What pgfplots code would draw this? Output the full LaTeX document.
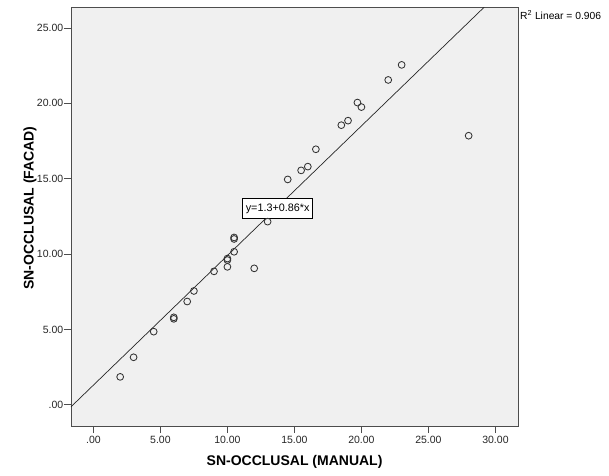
\documentclass[border=0pt]{standalone}
\usepackage{fontspec}
\setmainfont{Liberation Sans}
\usepackage{pgfplots}
\pgfplotsset{compat=1.18}
\definecolor{bg}{HTML}{F0F0F0}
\definecolor{framec}{HTML}{4D4D4D}
\definecolor{ptc}{HTML}{333333}
\begin{document}
\begin{tikzpicture}[x=1pt,y=1pt]
\useasboundingbox (0,0) rectangle (609,475);
\begin{axis}[
  at={(71pt,49pt)}, anchor=south west,
  scale only axis, width=447.5pt, height=418.7pt,
  xmin=-1.67, xmax=31.72, ymin=-1.41, ymax=26.37,
  axis background/.style={fill=bg},
  axis line style={framec, line width=0.9pt},
  xtick={0,5,10,15,20,25,30},
  xticklabels={.00,5.00,10.00,15.00,20.00,25.00,30.00},
  ytick={0,5,10,15,20,25},
  yticklabels={.00,5.00,10.00,15.00,20.00,25.00},
  tick align=outside, tick pos=left, major tick length=7pt,
  tick style={framec, line width=0.8pt},
  ticklabel style={font=\fontsize{10.5}{12}\selectfont, text=black!85},
  xticklabel style={inner ysep=2.5pt},
  yticklabel style={inner xsep=0.6pt},
  clip=false,
]
\addplot[only marks, mark=o, mark size=3.4pt, mark options={ptc, line width=0.85pt}] coordinates {
  (2,1.85) (3,3.15) (4.5,4.85) (6,5.7) (6,5.8) (7,6.85) (7.5,7.55)
  (9,8.85) (10,9.15) (10,9.6) (10,9.7) (10.5,10.15) (10.5,11.0) (10.5,11.1)
  (12,9.05) (13,12.15) (14.5,14.95) (15.5,15.55) (16,15.8) (16.6,16.95)
  (18.5,18.55) (19,18.85) (19.7,20.05) (20,19.75) (22,21.55) (23,22.55)
  (28,17.85)
};
\addplot[black!85, line width=0.7pt] coordinates {(-1.67,-0.136) (29.15,26.37)};
\node[draw=black, fill=white, line width=0.7pt, font=\fontsize{10.8}{12}\selectfont, inner xsep=3pt, minimum height=20pt] at (axis cs:13.75,13.03) {y=1.3+0.86*x};
\end{axis}
\node[anchor=west, font=\fontsize{10.3}{12}\selectfont, inner sep=0pt] at (520,460) {R\textsuperscript{2} Linear = 0.906};
\node[font=\fontsize{14}{16}\selectfont\bfseries] at (294.6,13) {SN-OCCLUSAL (MANUAL)};
\node[rotate=90, font=\fontsize{14}{16}\selectfont\bfseries] at (30,267) {SN-OCCLUSAL (FACAD)};
\end{tikzpicture}
\end{document}
